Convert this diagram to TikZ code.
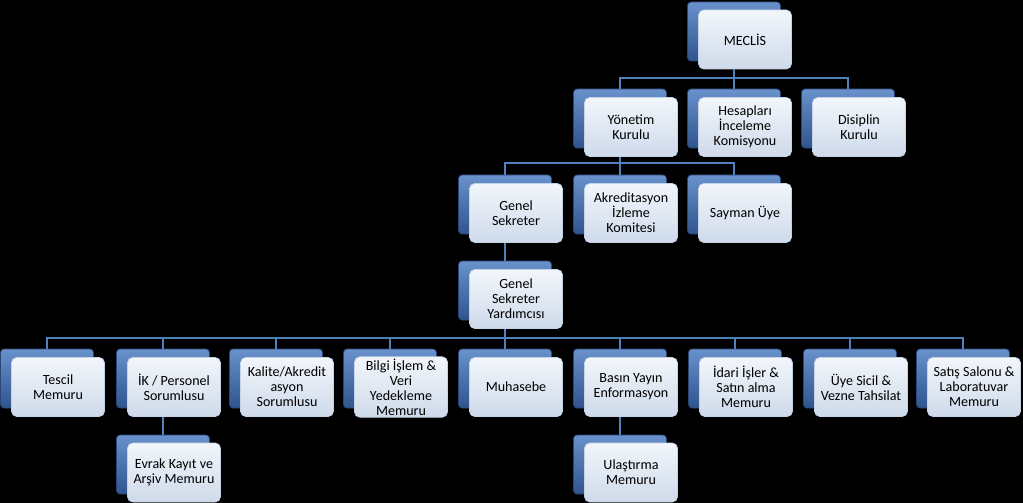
\documentclass[tikz,border=0pt]{standalone}
\usepackage{fontspec}
\setmainfont{Carlito}
\definecolor{orgline}{RGB}{79,129,189}
\definecolor{orgbacktop}{RGB}{105,145,203}
\definecolor{orgbackbot}{RGB}{48,84,142}
\definecolor{orgbackedge}{RGB}{40,70,120}
\definecolor{orgfronttop}{RGB}{242,246,251}
\definecolor{orgfrontbot}{RGB}{206,218,234}
\definecolor{orgfrontedge}{RGB}{196,210,230}
\usetikzlibrary{positioning,calc}

\begin{document}
\begin{tikzpicture}[x=0.2mm, y=-0.2mm,
    back/.style={rectangle, rounded corners=2pt, draw=orgbackedge, thin,
                 top color=orgbacktop, bottom color=orgbackbot,
                 minimum width=18.6mm, minimum height=11.8mm, inner sep=0pt},
    box/.style={rectangle, rounded corners=3pt, draw=orgfrontedge, thin,
                top color=orgfronttop, bottom color=orgfrontbot,
                minimum width=18.6mm, minimum height=11.8mm, inner sep=1pt,
                align=center, font=\fontsize{8}{8.6}\selectfont, text=black},
    conn/.style={line width=0.55mm, orgline}
  ]
    \fill[black] (0,0) rectangle (1023,503);
    \useasboundingbox (0,0) rectangle (1023,503);

    % Bars
    \coordinate (bar1) at (0,78);
    \coordinate (bar2) at (0,163);
    \coordinate (bar3) at (0,338);

    % Meclis
    \node[back] (meclisb)   at (734,31.5)  {};
    \node[box]  (meclis)    at (745,39.5)  {MECLİS};

    % Kurullar
    \node[back] (yonetimb)  at (620,118.5) {};
    \node[box]  (yonetim)   at (631,127)   {Yönetim\\Kurulu};
    \node[back] (hesapb)    at (734,118.5) {};
    \node[box]  (hesap)     at (745,127)   {Hesapları\\İnceleme\\Komisyonu};
    \node[back] (disiplinb) at (848,118.5) {};
    \node[box]  (disiplin)  at (859,127)   {Disiplin\\Kurulu};

    % Yonetim altı
    \node[back] (gensekb)   at (505,204.5) {};
    \node[box]  (gensek)    at (516,213)   {Genel\\Sekreter};
    \node[back] (akredb)    at (620,204.5) {};
    \node[box]  (akred)     at (631,213)   {Akreditasyon\\İzleme\\Komitesi};
    \node[back] (saymanb)   at (734,204.5) {};
    \node[box]  (sayman)    at (745,213)   {Sayman Üye};

    % Genel Sekreter Yardimcisi
    \node[back] (gsyb)      at (505,290.5) {};
    \node[box]  (gsy)       at (516,299)   {Genel\\Sekreter\\Yardımcısı};

    % Birimler
    \node[back] (tescilb)   at (47,378.5)  {};
    \node[box]  (tescil)    at (58,387)    {Tescil\\Memuru};
    \node[back] (ikb)       at (163,378.5) {};
    \node[box]  (ik)        at (174,387)   {İK / Personel\\Sorumlusu};
    \node[back] (kaliteb)   at (276,378.5) {};
    \node[box]  (kalite)    at (287,387)   {Kalite/Akredit\\asyon\\Sorumlusu};
    \node[back] (bilgib)    at (390,378.5) {};
    \node[box]  (bilgi)     at (401,387)   {Bilgi İşlem \&\\Veri\\Yedekleme\\Memuru};
    \node[back] (muhasebeb) at (505,378.5) {};
    \node[box]  (muhasebe)  at (516,387)   {Muhasebe};
    \node[back] (basinb)    at (620,378.5) {};
    \node[box]  (basin)     at (631,387)   {Basın Yayın\\Enformasyon};
    \node[back] (idarib)    at (735,378.5) {};
    \node[box]  (idari)     at (746,387)   {İdari İşler \&\\Satın alma\\Memuru};
    \node[back] (uyeb)      at (850,378.5) {};
    \node[box]  (uye)       at (861,387)   {Üye Sicil \&\\Vezne Tahsilat};
    \node[back] (satisb)    at (963,378.5) {};
    \node[box]  (satis)     at (974,387)   {Satış Salonu \&\\Laboratuvar\\Memuru};

    % Alt birimler
    \node[back] (evrakb)    at (163,464.5) {};
    \node[box]  (evrak)     at (174,472.5) {Evrak Kayıt ve\\Arşiv Memuru};
    \node[back] (ulasb)     at (620,464.5) {};
    \node[box]  (ulas)      at (631,472.5) {Ulaştırma\\Memuru};

    % Connections
    \draw[conn] (meclisb |- meclis.south) -- (meclisb |- bar1) -| (yonetimb.north);
    \draw[conn] (meclisb |- meclis.south) -- (hesapb.north);
    \draw[conn] (meclisb |- bar1) -| (disiplinb.north);

    \draw[conn] (yonetimb |- yonetim.south) -- (yonetimb |- bar2) -| (gensekb.north);
    \draw[conn] (yonetimb |- yonetim.south) -- (akredb.north);
    \draw[conn] (yonetimb |- bar2) -| (saymanb.north);

    \draw[conn] (gensekb |- gensek.south) -- (gsyb.north);

    \draw[conn] (gsyb |- gsy.south) -- (gsyb |- bar3) -| (tescilb.north);
    \draw[conn] (gsyb |- bar3) -| (satisb.north);
    \draw[conn] (ikb |- bar3)   -- (ikb.north);
    \draw[conn] (kaliteb |- bar3) -- (kaliteb.north);
    \draw[conn] (bilgib |- bar3) -- (bilgib.north);
    \draw[conn] (gsyb |- bar3)  -- (muhasebeb.north);
    \draw[conn] (basinb |- bar3) -- (basinb.north);
    \draw[conn] (idarib |- bar3) -- (idarib.north);
    \draw[conn] (uyeb |- bar3)  -- (uyeb.north);

    \draw[conn] (ikb |- ik.south) -- (evrakb.north);
    \draw[conn] (basinb |- basin.south) -- (ulasb.north);
  \end{tikzpicture}
\end{document}
